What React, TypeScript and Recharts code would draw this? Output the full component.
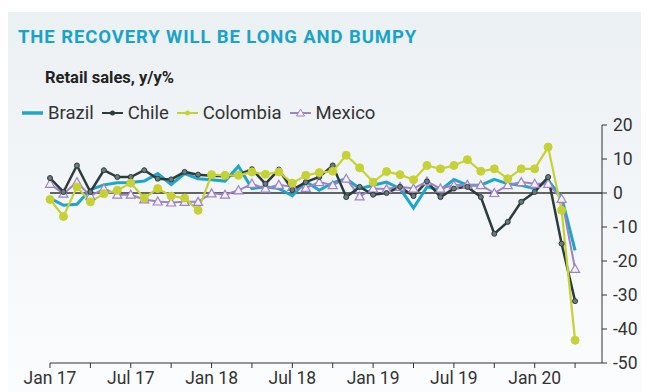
import { LineChart, Line, XAxis, YAxis, ReferenceLine } from "recharts";

// monthly y/y retail sales, Jan 17 .. Apr 20
const brazil = [
  -1.5, -3.6, -3.3, 1.0, 2.4, 3.0, 3.1, 3.5, 5.7, 2.5, 5.7, 4.2,
  3.9, 3.5, 7.9, 1.3, 1.8, 1.3, -0.8, 3.4, 0.8, 3.0, 4.2, 1.3,
  2.3, 3.2, 1.3, -4.4, 1.8, 0.8, 4.0, 2.3, 2.3, 4.0, 2.7, 2.3,
  1.3, 3.7, -1.2, -16.9,
];
const chile = [
  4.4, 0.3, 8.1, 0.3, 6.7, 4.7, 4.7, 6.7, 4.2, 4.0, 6.2, 5.4,
  5.1, 4.9, 5.4, 7.0, 2.7, 6.9, 0.9, 3.2, 4.7, 8.1, -1.2, 1.8,
  -0.5, 0.0, 1.8, -0.9, 3.4, -1.2, 1.3, 1.8, -1.2, -12.0, -8.5, -2.6,
  0.3, 4.7, -14.9, -31.8,
];
const colombia = [
  -1.9, -6.9, 1.8, -2.6, -0.2, 0.8, 2.9, -1.5, 1.3, -0.9, -1.5, -5.1,
  5.4, 5.2, 5.2, 6.2, 5.5, 6.2, 2.9, 5.2, 6.0, 6.4, 11.1, 7.4,
  3.2, 6.3, 5.4, 3.9, 8.1, 7.1, 8.1, 9.8, 6.4, 7.1, 4.2, 7.1,
  7.1, 13.5, -5.1, -43.3,
];
const mexico = [
  2.7, -0.2, 3.2, -0.9, 1.3, -0.5, -0.5, -1.9, -2.5, -2.8, -2.6, -2.6,
  -0.1, -0.5, 0.8, 2.7, 1.3, 2.4, 1.8, 1.5, 3.2, 2.3, 4.2, -1.0,
  1.3, 1.2, 1.8, 1.3, 3.4, 1.3, 2.3, 2.4, 2.3, 0.0, 2.3, 3.2,
  2.7, 2.7, -1.7, -22.3,
];
const xTicks = [0, 3, 6, 9, 12, 15, 18, 21, 24, 27, 30, 33, 36, 39];
const xLabels = ["Jan 17", "Jul 17", "Jan 18", "Jul 18", "Jan 19", "Jul 19", "Jan 20"];
const yTicks = [20, 10, 0, -10, -20, -30, -40, -50];

const data = brazil.map((_, i) => ({
  i,
  brazil: brazil[i],
  chile: chile[i],
  colombia: colombia[i],
  mexico: mexico[i],
}));

const TEAL = "#1ea5c8";
const DARK = "#2d3b3d";
const LIME = "#c6d234";
const PURPLE = "#9c83c3";
const FONT = "Roboto, 'Liberation Sans', sans-serif";

const TriangleDot = (props: any) => {
  const { cx, cy } = props;
  if (cx == null || cy == null) return null;
  return (
    <path
      d={`M${cx},${cy - 4.5} L${cx + 4.5},${cy + 3.5} L${cx - 4.5},${cy + 3.5} Z`}
      fill="#f4f1f9"
      stroke={PURPLE}
      strokeWidth={1.2}
    />
  );
};

const LegendIcon = ({ color, kind }: { color: string; kind: string }) => (
  <svg width={21} height={12} style={{ marginRight: 5 }}>
    <line x1={0} y1={6} x2={21} y2={6} stroke={color} strokeWidth={kind === "none" ? 3.5 : 2} />
    {kind === "dot" && <circle cx={10.5} cy={6} r={2.5} fill={color} />}
    {kind === "tri" && <path d="M10.5,2 L14.5,9 L6.5,9 Z" fill="#f4f1f9" stroke={color} strokeWidth={1} />}
  </svg>
);

const legendItems = [
  { name: "Brazil", color: TEAL, kind: "none" },
  { name: "Chile", color: DARK, kind: "dot" },
  { name: "Colombia", color: LIME, kind: "dot" },
  { name: "Mexico", color: PURPLE, kind: "tri" },
];

export default function App() {
  return (
    <div
      style={{
        position: "relative",
        width: 641,
        height: 380,
        marginTop: 4,
        background: "linear-gradient(#ebf0f3, #fbfcfd)",
        fontFamily: FONT,
      }}
    >
      <div
        style={{
          position: "absolute",
          left: 10,
          top: 14,
          fontSize: 18.5,
          fontWeight: 700,
          color: "#1aa3c9",
          letterSpacing: 0.9,
        }}
      >
        THE RECOVERY WILL BE LONG AND BUMPY
      </div>
      <div
        style={{
          position: "absolute",
          left: 37,
          top: 56,
          fontSize: 16.5,
          fontWeight: 700,
          color: "#222",
        }}
      >
        Retail sales, y/y%
      </div>
      <div
        style={{
          position: "absolute",
          left: 14,
          top: 90,
          display: "flex",
          alignItems: "center",
          fontSize: 18.5,
          color: "#333",
        }}
      >
        {legendItems.map((it) => (
          <div key={it.name} style={{ display: "flex", alignItems: "center", marginRight: 8 }}>
            <LegendIcon color={it.color} kind={it.kind} />
            <span>{it.name}</span>
          </div>
        ))}
      </div>

      <div style={{ position: "absolute", left: 0, top: 0 }}>
        <LineChart
          width={641}
          height={380}
          data={data}
          margin={{ top: 113, right: 2, bottom: 4, left: 42 }}
        >
          <XAxis
            type="number"
            dataKey="i"
            domain={[0, 41]}
            ticks={xTicks}
            tickFormatter={(v: number) => (v % 6 === 0 ? xLabels[v / 6] : "")}
            interval={0}
            height={25}
            stroke="#333"
            tickSize={5}
            tickMargin={4}
            tick={{ fill: "#333", fontSize: 17.5 }}
          />
          <YAxis
            orientation="right"
            domain={[-50, 20]}
            ticks={yTicks}
            width={45}
            stroke="#333"
            tickSize={5}
            tickMargin={6}
            tick={{ fill: "#333", fontSize: 17.5 }}
          />
          <ReferenceLine y={0} stroke="#333" strokeWidth={1.5} />
          <Line
            dataKey="brazil"
            stroke={TEAL}
            strokeWidth={3}
            dot={false}
            isAnimationActive={false}
          />
          <Line
            dataKey="mexico"
            stroke={PURPLE}
            strokeWidth={2}
            dot={<TriangleDot />}
            isAnimationActive={false}
          />
          <Line
            dataKey="chile"
            stroke={DARK}
            strokeWidth={2.5}
            dot={{ r: 2.5, fill: "#6d7b7d", stroke: DARK, strokeWidth: 1 }}
            isAnimationActive={false}
          />
          <Line
            dataKey="colombia"
            stroke={LIME}
            strokeWidth={2.2}
            dot={{ r: 4, fill: LIME, stroke: LIME, strokeWidth: 1 }}
            isAnimationActive={false}
          />
        </LineChart>
      </div>
    </div>
  );
}
